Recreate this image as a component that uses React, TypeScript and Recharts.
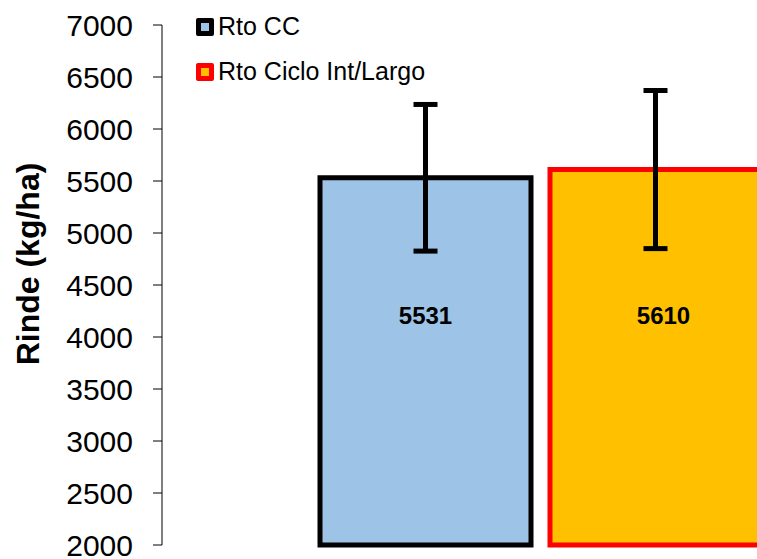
import { BarChart, Bar, XAxis, YAxis, ErrorBar, LabelList } from 'recharts'

const categories = ['Rinde']
const rtoCC = [5531]
const rtoCCError = [705]
const rtoCiclo = [5610]
const rtoCicloError = [760]
const yTicks = [2000, 2500, 3000, 3500, 4000, 4500, 5000, 5500, 6000, 6500, 7000]

const FONT = '"Liberation Sans", Arial, sans-serif'

const data = categories.map((name, i) => ({
  name,
  cc: rtoCC[i],
  ccErr: rtoCCError[i],
  ciclo: rtoCiclo[i],
  cicloErr: rtoCicloError[i],
}))

const legendItems = [
  { label: 'Rto CC', fill: '#9DC3E6', border: '#000000' },
  { label: 'Rto Ciclo Int/Largo', fill: '#FFC000', border: '#FF0000' },
]

// leyenda dibujada aparte, encima del gráfico
const ChartLegend = () => (
  <div style={{ position: 'absolute', left: 196, top: 4, fontFamily: FONT }}>
    {legendItems.map((item) => (
      <div key={item.label} style={{ display: 'flex', alignItems: 'center', height: 45 }}>
        <span
          style={{
            display: 'inline-block',
            width: 8,
            height: 8,
            background: item.fill,
            border: `5px solid ${item.border}`,
            borderRadius: 2,
            marginRight: 4,
          }}
        />
        <span style={{ fontSize: 25, color: '#000' }}>{item.label}</span>
      </div>
    ))}
  </div>
)

// etiqueta de valor, a altura fija sobre la base de la barra
const makeValueLabel = (dx: number) => (props: any) => {
  const { x, y, width, height, value } = props
  const cx = Number(x) + Number(width) / 2 + dx
  const bottom = Number(y) + Number(height)
  return (
    <text
      x={cx}
      y={bottom - 230}
      textAnchor="middle"
      dominantBaseline="central"
      fontFamily={FONT}
      fontWeight="bold"
      fontSize={24}
      fill="#000"
    >
      {value}
    </text>
  )
}

const YLabel = () => (
  <text
    x={28}
    y={264}
    transform="rotate(-90, 28, 264)"
    textAnchor="middle"
    dominantBaseline="central"
    fontFamily={FONT}
    fontWeight="bold"
    fontSize={32}
    fill="#000"
  >
    Rinde (kg/ha)
  </text>
)

export default function App() {
  return (
    <>
      <style>{'html,body{margin:0;padding:0;overflow:hidden}'}</style>
      <div style={{ position: 'relative', width: 757, height: 559, overflow: 'hidden', background: '#fff' }}>
        <BarChart
          width={930}
          height={559}
          data={data}
          margin={{ top: 25, right: 11, left: 0, bottom: 14 }}
          barSize={211}
          barGap={19}
        >
          <XAxis dataKey="name" hide />
          <YAxis
            width={162}
            domain={[2000, 7000]}
            ticks={yTicks}
            interval={0}
            axisLine={{ stroke: '#000', strokeWidth: 1 }}
            tickLine={{ stroke: '#000', strokeWidth: 1 }}
            tickSize={9}
            tickMargin={20}
            tick={{ fill: '#000', fontSize: 30, fontFamily: FONT }}
            label={<YLabel />}
          />
          <Bar dataKey="cc" name="Rto CC" fill="#9DC3E6" stroke="#000" strokeWidth={5} isAnimationActive={false}>
            <ErrorBar dataKey="ccErr" width={12} strokeWidth={5} stroke="#000" direction="y" isAnimationActive={false} />
            <LabelList dataKey="cc" content={makeValueLabel(0)} />
          </Bar>
          <Bar dataKey="ciclo" name="Rto Ciclo Int/Largo" fill="#FFC000" stroke="#FF0000" strokeWidth={5} isAnimationActive={false}>
            <ErrorBar dataKey="cicloErr" width={12} strokeWidth={5} stroke="#000" direction="y" isAnimationActive={false} />
            <LabelList dataKey="ciclo" content={makeValueLabel(8)} />
          </Bar>
        </BarChart>
        <ChartLegend />
      </div>
    </>
  )
}
